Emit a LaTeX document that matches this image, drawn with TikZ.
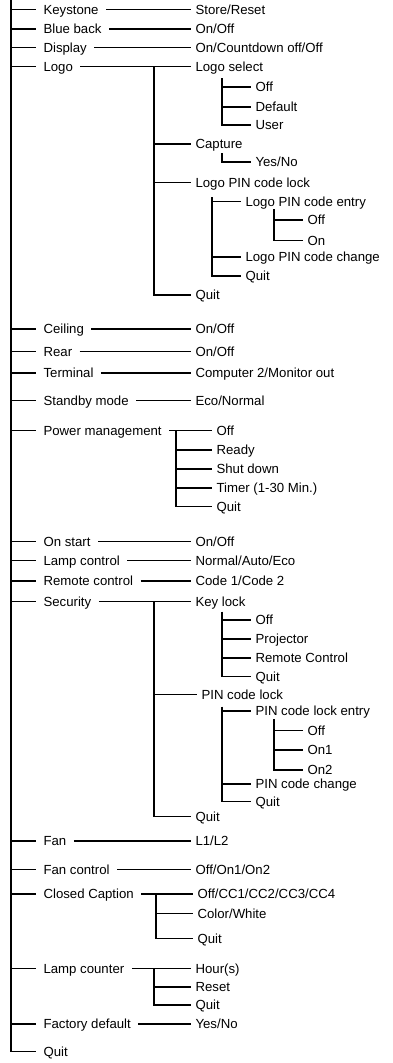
\documentclass[tikz,border=0pt]{standalone}
\usepackage{fontspec}
\setmainfont{Liberation Sans}
\begin{document}
\begin{tikzpicture}[x=1pt,y=-1pt,line width=1.1pt,
        every node/.style={font=\fontsize{13.2}{15}\selectfont,text height=9.4pt,text depth=0pt,inner ysep=1pt,anchor=west},
        item/.style={inner xsep=7pt},
        opt/.style={inner xsep=4pt}]
        \useasboundingbox (0,0) rectangle (393,1063);
        \coordinate (top) at (11,0);

        \node[item] (keys) at (36,9.3) {Keystone};
        \node[item] (blue) at (36,29) {Blue back};
        \node[item] (disp) at (36,47.7) {Display};
        \node[item] (logo) at (36,66.7) {Logo};
        \node[item] (ceil) at (36,329) {Ceiling};
        \node[item] (rear) at (36,351.7) {Rear};
        \node[item] (term) at (36,373) {Terminal};
        \node[item] (stby) at (36,400.7) {Standby mode};
        \node[item] (pwr) at (36,430.7) {Power management};
        \node[item] (onst) at (36,541.7) {On start};
        \node[item] (lamp) at (36,560.7) {Lamp control};
        \node[item] (remo) at (36,581) {Remote control};
        \node[item] (secu) at (36,601.7) {Security};
        \node[item] (fan) at (36,841) {Fan};
        \node[item] (fanc) at (36,869.3) {Fan control};
        \node[item] (cc) at (36,894) {Closed Caption};
        \node[item] (lcnt) at (36,968.3) {Lamp counter};
        \node[item] (fact) at (36,1024) {Factory default};
        \node[item] (quit) at (36,1051.7) {Quit};

        \node[opt] (vkeys) at (191,9.3) {Store/Reset};
        \node[opt] (vblue) at (191,29) {On/Off};
        \node[opt] (vdisp) at (191,47.7) {On/Countdown off/Off};
        \node[opt] (vceil) at (191,329) {On/Off};
        \node[opt] (vrear) at (191,351.7) {On/Off};
        \node[opt] (vterm) at (191,373) {Computer 2/Monitor out};
        \node[opt] (vstby) at (191,400.7) {Eco/Normal};
        \node[opt] (vonst) at (191,541.7) {On/Off};
        \node[opt] (vlamp) at (191,560.7) {Normal/Auto/Eco};
        \node[opt] (vremo) at (191,581) {Code 1/Code 2};
        \node[opt] (vfan) at (191,841) {L1/L2};
        \node[opt] (vfanc) at (191,869.3) {Off/On1/On2};
        \node[opt] (vfact) at (191,1024) {Yes/No};

        \node[opt] (lsel) at (191,66.7) {Logo select};
        \node[opt] (lsoff) at (251,87) {Off};
        \node[opt] (lsdef) at (251,107) {Default};
        \node[opt] (lsusr) at (251,125) {User};
        \node[opt] (capt) at (191,144) {Capture};
        \node[opt] (cyes) at (251,162) {Yes/No};
        \node[opt] (lpin) at (191,182.7) {Logo PIN code lock};
        \node[opt] (lpent) at (241,201.7) {Logo PIN code entry};
        \node[opt] (lpoff) at (303,220) {Off};
        \node[opt] (lpon) at (303,240.7) {On};
        \node[opt] (lpchg) at (241,257) {Logo PIN code change};
        \node[opt] (lpquit) at (241,276) {Quit};
        \node[opt] (lgquit) at (191,295) {Quit};

        \node[opt] (pwoff) at (212,430.7) {Off};
        \node[opt] (pwrdy) at (212,450) {Ready};
        \node[opt] (pwshut) at (212,469) {Shut down};
        \node[opt] (pwtim) at (212,488) {Timer (1-30 Min.)};
        \node[opt] (pwquit) at (212,506.7) {Quit};

        \node[opt] (klock) at (191,601.7) {Key lock};
        \node[opt] (kloff) at (251,620) {Off};
        \node[opt] (klproj) at (251,639) {Projector};
        \node[opt] (klrem) at (251,658) {Remote Control};
        \node[opt] (klquit) at (251,676.7) {Quit};
        \node[opt] (pclock) at (197,694.3) {PIN code lock};
        \node[opt] (pcent) at (251,711) {PIN code lock entry};
        \node[opt] (peoff) at (303,730.7) {Off};
        \node[opt] (peon1) at (303,750) {On1};
        \node[opt] (peon2) at (303,770) {On2};
        \node[opt] (pcchg) at (251,784) {PIN code change};
        \node[opt] (pcquit) at (251,801.7) {Quit};
        \node[opt] (scquit) at (191,816.7) {Quit};

        \node[opt] (ccoff) at (193,894) {Off/CC1/CC2/CC3/CC4};
        \node[opt] (cccol) at (193,913.3) {Color/White};
        \node[opt] (ccquit) at (193,938.3) {Quit};

        \node[opt] (lchr) at (191,968.3) {Hour(s)};
        \node[opt] (lcres) at (191,987) {Reset};
        \node[opt] (lcquit) at (191,1005) {Quit};

        \coordinate (lgs) at (154,66.7);
        \coordinate (lss) at (222,78);
        \coordinate (cps) at (222,153);
        \coordinate (lps) at (212,197);
        \coordinate (les) at (274,209);
        \coordinate (pws) at (176,430.7);
        \coordinate (scs) at (154,601.7);
        \coordinate (kls) at (222,611.7);
        \coordinate (pcs) at (222,706.7);
        \coordinate (pes) at (274,719);
        \coordinate (ccs) at (156,894);
        \coordinate (lcs) at (154,968.3);

        \draw (top) |- (quit.west);
        \foreach \a in {keys,blue,disp,logo,ceil,rear,term,stby,pwr,onst,lamp,remo,secu,fan,fanc,cc,lcnt,fact} {
                \draw (top |- \a.west) -- (\a.west);
            }
        \foreach \a/\b in {keys/vkeys,blue/vblue,disp/vdisp,logo/lsel,ceil/vceil,rear/vrear,term/vterm,stby/vstby,pwr/pwoff,onst/vonst,lamp/vlamp,remo/vremo,secu/klock,fan/vfan,fanc/vfanc,cc/ccoff,lcnt/lchr,fact/vfact} {
                \draw (\a.east) -- (\b.west);
            }
        \foreach \s/\l/\bs in {lgs/lgquit/{capt,lpin},lss/lsusr/{lsoff,lsdef},lps/lpquit/{lpent,lpchg},les/lpon/{lpoff},pws/pwquit/{pwrdy,pwshut,pwtim},scs/scquit/{pclock},kls/klquit/{kloff,klproj,klrem},pcs/pcquit/{pcent,pcchg},pes/peon2/{peoff,peon1},ccs/ccquit/{cccol},lcs/lcquit/{lcres}} {
                \draw (\s) |- (\l.west);
                \foreach \b in \bs {
                        \draw (\s |- \b.west) -- (\b.west);
                    }
            }
        \draw (cps) |- (cyes.west);
    \end{tikzpicture}
\end{document}
